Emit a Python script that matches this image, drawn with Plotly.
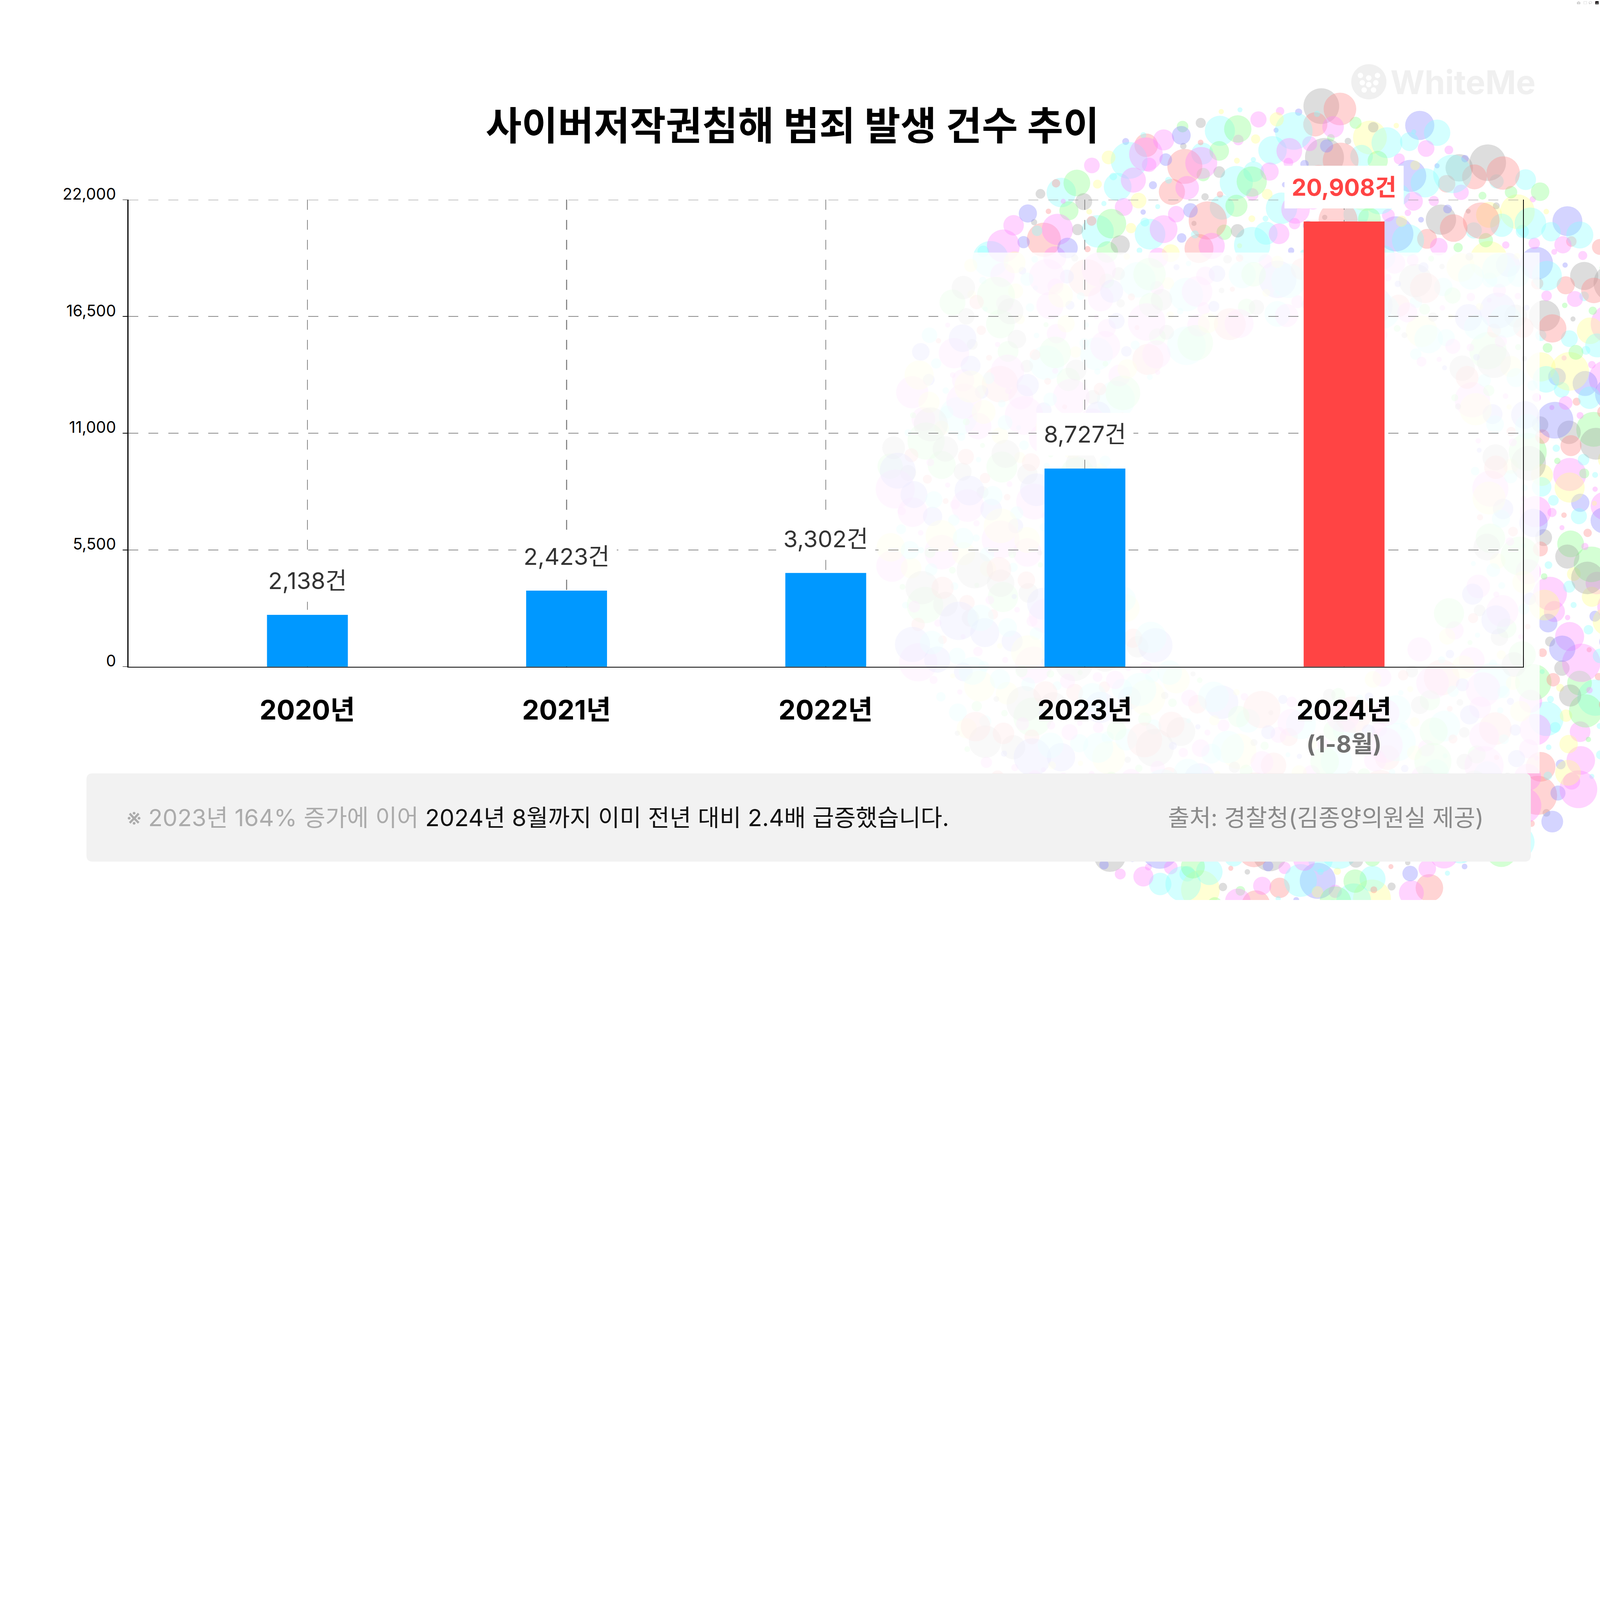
import math
import plotly.graph_objects as go

# ---------------- data ----------------
categories = ["2020년", "2021년", "2022년", "2023년", "2024년"]
bar_heights = [2444, 3583, 4418, 9336, 20979]          # bar heights as drawn in the picture
label_texts = ["2,138건", "2,423건", "3,302건", "8,727건", "20,908건"]
sub_label = "(1-8월)"
y_ticks = [0, 5500, 11000, 16500, 22000]
y_tick_text = ["0", "5,500", "11,000", "16,500", "22,000"]
title_text = "사이버저작권침해 범죄 발생 건수 추이"
note_gray = "※ 2023년 164% 증가에 이어 "
note_black = "2024년 8월까지 이미 전년 대비 2.4배 급증했습니다."
source_text = "출처: 경찰청(김종양의원실 제공)"
watermark = "WhiteMe"

# ---------------- style ----------------
W, H = 7680, 4320
FONT = "Inter, 'Noto Sans CJK KR', sans-serif"
BLUE = "#0098FF"
RED = "#FF4444"
GRID = "#8A8A8A"
bar_colors = [BLUE, BLUE, BLUE, BLUE, RED]

def fx(px):
    return px / W

def fy(py):
    return 1 - py / H

plot_left, plot_right, plot_top, plot_bottom = 616, 7310, 959, 3200

fig = go.Figure()
fig.add_trace(go.Bar(
    x=categories, y=bar_heights, marker=dict(color=bar_colors, line=dict(width=0)),
    width=0.312, hoverinfo="skip", showlegend=False,
))

shapes = []

# ---- decorative bubble ring (background ornament, not data) ----
cx, cy, r_in, r_out = 6200, 2450, 900, 1950
bub_cols = ["#ff88ff", "#88ffff", "#ffff88", "#88ff88", "#ff8888", "#8888ff",
            "#ff88ff", "#88ffff", "#a0a0a0"]
g1, g2, g3 = 0.6180339887, 0.7548776662, 0.5698402910
for i in range(1350):
    ang = 2 * math.pi * ((i * g1 + 0.13) % 1)
    q = (i * g2 + 0.37) % 1
    rad = math.sqrt(r_in ** 2 + q * (r_out ** 2 - r_in ** 2))
    bx = cx + rad * math.cos(ang)
    by = cy - rad * math.sin(ang)
    r = 12 + 82 * (((i * g3) % 1) ** 1.7)
    if bx - r > W or by - r > H or by + r < 0:
        continue
    shapes.append(dict(type="circle", xref="paper", yref="paper", layer="below",
                       x0=fx(bx - r), x1=fx(bx + r), y0=fy(by + r), y1=fy(by - r),
                       fillcolor=bub_cols[(i * 4) % len(bub_cols)], opacity=0.36,
                       line=dict(width=0)))

# white veil over the chart interior
shapes.append(dict(type="rect", xref="paper", yref="paper", layer="below",
                   x0=0, x1=fx(7390), y0=fy(3712), y1=fy(1212),
                   fillcolor="white", opacity=0.82, line=dict(width=0)))

# top dashed gridline (plotly hides the grid line lying on the plot edge)
shapes.append(dict(type="line", xref="paper", yref="y", layer="below",
                   x0=fx(plot_left), x1=fx(plot_right), y0=y_ticks[-1], y1=y_ticks[-1],
                   line=dict(color=GRID, width=4, dash="48px,48px")))

# footer box (rounded)
bx0, bx1, by0, by1, rr = 415, 7348, 3712, 4136, 30
def P(x, y):
    return f"{fx(x):.6f},{fy(y):.6f}"
path = (f"M {P(bx0 + rr, by0)} L {P(bx1 - rr, by0)} Q {P(bx1, by0)} {P(bx1, by0 + rr)} "
        f"L {P(bx1, by1 - rr)} Q {P(bx1, by1)} {P(bx1 - rr, by1)} "
        f"L {P(bx0 + rr, by1)} Q {P(bx0, by1)} {P(bx0, by1 - rr)} "
        f"L {P(bx0, by0 + rr)} Q {P(bx0, by0)} {P(bx0 + rr, by0)} Z")
shapes.append(dict(type="path", xref="paper", yref="paper", layer="above", path=path,
                   fillcolor="#F2F2F2", line=dict(width=0)))

# watermark logo
shapes.append(dict(type="circle", xref="paper", yref="paper", layer="below",
                   x0=fx(6486), x1=fx(6655), y0=fy(477), y1=fy(308),
                   fillcolor="#F0F0F0", line=dict(width=0)))
for dx, dy in [(6530, 362), (6612, 362), (6570, 374), (6539, 397), (6604, 397),
               (6570, 406), (6548, 432), (6593, 432)]:
    shapes.append(dict(type="circle", xref="paper", yref="paper", layer="below",
                       x0=fx(dx - 13), x1=fx(dx + 13), y0=fy(dy + 13), y1=fy(dy - 13),
                       fillcolor="white", line=dict(width=0)))

annotations = []
# title
annotations.append(dict(text=f"<b>{title_text}</b>", xref="paper", yref="paper",
                        x=fx(3803), y=fy(603), xanchor="center", yanchor="middle",
                        showarrow=False, font=dict(family=FONT, size=188, color="#000000")))
# watermark text
annotations.append(dict(text=f"<b>{watermark}</b>", xref="paper", yref="paper",
                        x=fx(6672), y=fy(394), xanchor="left", yanchor="middle",
                        showarrow=False, font=dict(family=FONT, size=158, color="#F0F0F0")))
# value labels
for i, (cat, val, txt) in enumerate(zip(categories, bar_heights, label_texts)):
    last = i == len(categories) - 1
    annotations.append(dict(
        text=(f"<b>{txt}</b>" if last else txt), x=cat, y=val, xref="x", yref="y",
        yshift=165, xanchor="center", yanchor="middle", showarrow=False,
        bgcolor="white", borderpad=34,
        font=dict(family=FONT, size=112, color=(RED if last else "#333333"))))
# category labels
for cat in categories:
    annotations.append(dict(text=f"<b>{cat}</b>", x=cat, y=fy(plot_bottom), xref="x", yref="paper",
                            yshift=-206, xanchor="center", yanchor="middle", showarrow=False,
                            font=dict(family=FONT, size=130, color="#000000")))
annotations.append(dict(text=f"<b>{sub_label}</b>", x=categories[-1], y=fy(plot_bottom),
                        xref="x", yref="paper", yshift=-370, xanchor="center", yanchor="middle",
                        showarrow=False, font=dict(family=FONT, size=112, color="#707070")))
# footer texts
annotations.append(dict(text=f"<span style='color:#ABABAB'>{note_gray}</span>{note_black}",
                        xref="paper", yref="paper", x=fx(605), y=fy(3925),
                        xanchor="left", yanchor="middle", showarrow=False,
                        font=dict(family=FONT, size=113, color="#111111")))
annotations.append(dict(text=source_text, xref="paper", yref="paper", x=fx(7125), y=fy(3925),
                        xanchor="right", yanchor="middle", showarrow=False,
                        font=dict(family=FONT, size=112, color="#8A8A8A")))

fig.update_layout(
    width=W, height=H, margin=dict(l=0, r=0, t=0, b=0),
    paper_bgcolor="white", plot_bgcolor="rgba(0,0,0,0)",
    shapes=shapes, annotations=annotations, showlegend=False,
    xaxis=dict(domain=[fx(plot_left), fx(plot_right)], range=[-0.691, 4.69],
               type="category", showgrid=True, gridcolor=GRID, gridwidth=4,
               griddash="48px,48px", showline=True, linecolor="#000000", linewidth=4,
               showticklabels=False, ticks="", zeroline=False, fixedrange=True),
    yaxis=dict(domain=[fy(plot_bottom), fy(plot_top)], range=[0, 22000],
               tickvals=y_ticks, ticktext=y_tick_text, showgrid=True, gridcolor=GRID,
               gridwidth=4, griddash="48px,48px", showline=True, mirror=True,
               linecolor="#000000", linewidth=4, ticks="outside", ticklen=24, tickwidth=3,
               tickcolor="#000000", ticklabelstandoff=16, ticklabelshift=-28,
               tickfont=dict(family=FONT, size=76, color="#000000"), zeroline=False,
               automargin=False, fixedrange=True),
)

# fit the 7680x4320 figure to the browser window if the window is narrower
fit_js = """
document.body.style.margin = '0';
document.documentElement.style.overflow = 'hidden';
var s = window.innerWidth / 7680;
if (s < 1) { document.getElementById('{plot_id}').style.zoom = s; }
"""
fig.write_html("out.html", post_script=fit_js)
